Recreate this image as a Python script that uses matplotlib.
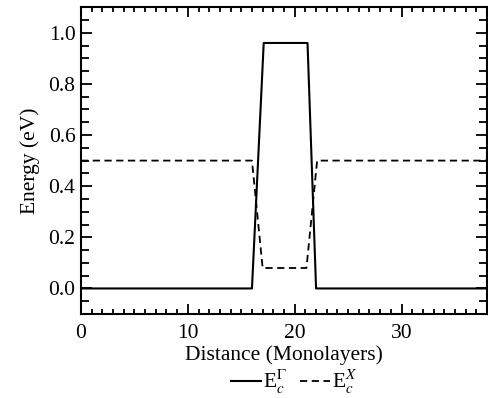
import matplotlib
matplotlib.use("Agg")
import matplotlib.pyplot as plt
from matplotlib.ticker import MultipleLocator

# Datos
dist_gamma = [0, 16.0, 17.1, 21.2, 22.0, 38]
energia_gamma = [0.0, 0.0, 0.96, 0.96, 0.0, 0.0]

dist_x = [0, 16.0, 17.0, 21.1, 22.1, 38]
energia_x = [0.50, 0.50, 0.08, 0.08, 0.50, 0.50]

plt.rcParams['font.family'] = ['Liberation Serif', 'DejaVu Serif']
plt.rcParams['mathtext.fontset'] = 'stix'

fig = plt.figure(figsize=(4.88, 3.98), dpi=100)
ax = fig.add_axes([0.166, 0.211, 0.832, 0.771])

ax.plot(dist_gamma, energia_gamma, color='black', linewidth=1.5, label=r'E$_c^\Gamma$')
ax.plot(dist_x, energia_x, color='black', linewidth=1.3, linestyle=(0, (4, 2.5)), label=r'E$_c^X$')

ax.set_xlim(0, 38)
ax.set_ylim(-0.1, 1.1)
ax.xaxis.set_major_locator(MultipleLocator(10))
ax.xaxis.set_minor_locator(MultipleLocator(1))
ax.yaxis.set_major_locator(MultipleLocator(0.2))
ax.yaxis.set_minor_locator(MultipleLocator(0.05))
ax.yaxis.set_major_formatter(matplotlib.ticker.FormatStrFormatter('%.1f'))

ax.tick_params(which='both', direction='in', top=True, right=True, width=1.3, labelsize=15.5)
ax.tick_params(axis='x', which='major', length=7, pad=7)
ax.tick_params(axis='x', which='minor', length=3.5)
ax.tick_params(axis='y', which='major', length=8, pad=4)
ax.tick_params(axis='y', which='minor', length=6)
for s in ax.spines.values():
    s.set_linewidth(1.5)

ax.set_xlabel('Distance (Monolayers)', fontsize=15.5, labelpad=2)
ax.set_ylabel('Energy (eV)', fontsize=15.5, labelpad=6)

ax.legend(loc='upper center', bbox_to_anchor=(0.525, -0.175), ncol=2, frameon=False,
          fontsize=15.5, handlelength=1.4, handletextpad=0.1, columnspacing=0.6,
          borderaxespad=0, borderpad=0)

plt.savefig('out.png', dpi=100)
